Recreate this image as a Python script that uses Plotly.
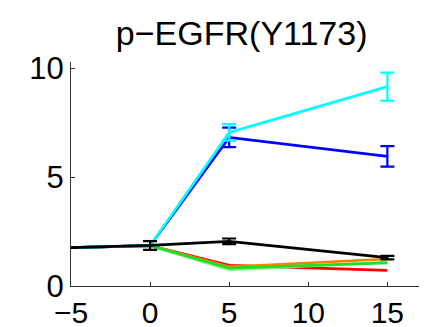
import plotly.graph_objects as go

time = [-5, 0, 5, 15]

red_vals = [1.76, 1.85, 0.95, 0.72]
orange_vals = [1.76, 1.85, 0.88, 1.24]
lightgreen_vals = [1.76, 1.85, 0.74, 1.10]
green_vals = [1.76, 1.85, 0.82, 1.06]
blue_vals = [1.76, 1.85, 6.82, 5.95]
blue_err = [0, 0, 0.45, 0.47]
cyan_vals = [1.76, 1.85, 7.05, 9.15]
cyan_err = [0, 0, 0.38, 0.64]
black_vals = [1.76, 1.86, 2.05, 1.30]
black_err = [0, 0.2, 0.13, 0.08]

series = [
    ("red", red_vals, None, "#ff0000"),
    ("orange", orange_vals, None, "#ff8000"),
    ("lightgreen", lightgreen_vals, None, "#90f090"),
    ("green", green_vals, None, "#22dd22"),
    ("blue", blue_vals, blue_err, "#0000ff"),
    ("cyan", cyan_vals, cyan_err, "#00ffff"),
    ("black", black_vals, black_err, "#000000"),
]

fig = go.Figure()
for name, vals, err, color in series:
    kw = {}
    if err is not None:
        kw["error_y"] = dict(type="data", array=err, visible=True, color=color,
                             thickness=2.2, width=7)
    fig.add_trace(go.Scatter(x=time, y=vals, mode="lines", name=name,
                             line=dict(color=color, width=2.7), **kw))

fig.update_layout(
    width=427, height=327,
    margin=dict(l=71, r=8, t=62, b=41, autoexpand=False),
    paper_bgcolor="white", plot_bgcolor="white",
    showlegend=False,
    font=dict(family="Liberation Sans, Arial, sans-serif", color="black"),
    title=dict(text="p\u2212EGFR(Y1173)", x=0.566, xanchor="center", xref="container",
               y=0.899, yanchor="middle", yref="container",
               font=dict(size=34, family="Liberation Sans, Arial, sans-serif", color="black")),
)
fig.update_xaxes(range=[-5, 17], tickvals=[-5, 0, 5, 10, 15], showgrid=False, zeroline=False,
                 showline=True, linecolor="#333", linewidth=1, ticks="inside", ticklen=4,
                 tickcolor="#333", tickfont=dict(size=30), automargin=False)
fig.update_yaxes(range=[0, 10.28], tickvals=[0, 5, 10], showgrid=False, zeroline=False,
                 showline=True, linecolor="#333", linewidth=1, ticks="inside", ticklen=4,
                 tickcolor="#333", tickfont=dict(size=31), automargin=False)

fig.write_html("out.html")
